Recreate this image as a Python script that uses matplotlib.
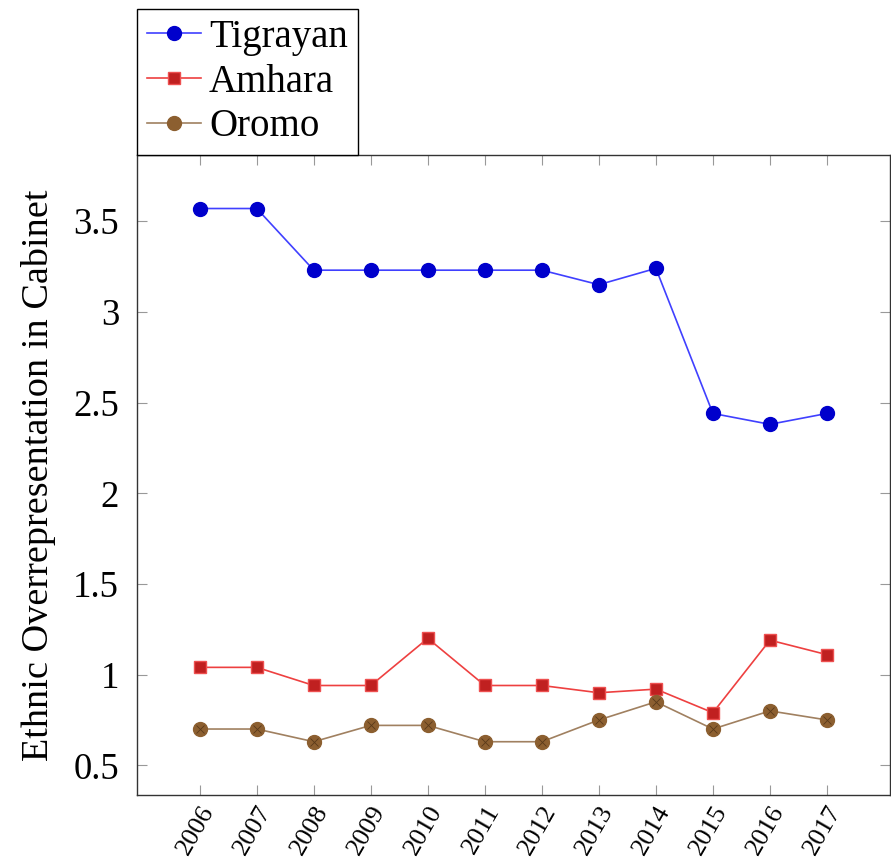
import matplotlib.pyplot as plt

years = [2006, 2007, 2008, 2009, 2010, 2011, 2012, 2013, 2014, 2015, 2016, 2017]
tigrayan = [3.57, 3.57, 3.23, 3.23, 3.23, 3.23, 3.23, 3.15, 3.24, 2.44, 2.38, 2.44]
amhara = [1.04, 1.04, 0.94, 0.94, 1.20, 0.94, 0.94, 0.90, 0.92, 0.79, 1.19, 1.11]
oromo = [0.70, 0.70, 0.63, 0.72, 0.72, 0.63, 0.63, 0.75, 0.85, 0.70, 0.80, 0.75]
yticks = [0.5, 1, 1.5, 2, 2.5, 3, 3.5]

plt.rcParams["font.family"] = ["Liberation Serif", "DejaVu Serif"]

fig = plt.figure(figsize=(8.91, 8.67), dpi=100)
ax = fig.add_axes([0.1538, 0.083, 0.8447, 0.738])

ax.plot(years, tigrayan, color="#4040ff", lw=1.2, marker="o", ms=10,
        mfc="#0000cc", mec="#0000cc", label="Tigrayan")
ax.plot(years, amhara, color="#ee4040", lw=1.2, marker="s", ms=9,
        mfc="#c02020", mec="#ee5050", label="Amhara")
ax.plot(years, oromo, color="#a08060", lw=1.2, marker="o", ms=10,
        mfc="#8c5f30", mec="#8c5f30", label="Oromo")
# cross hatch inside the Oromo markers
ax.plot(years, oromo, ls="none", marker="x", ms=6, mew=0.6, color="#5a3a1a")

ax.set_xlim(2004.9, 2018.1)
ax.set_ylim(0.336, 3.864)
ax.set_xticks(years)
ax.set_xticklabels([str(y) for y in years], rotation=60, ha="right",
                   rotation_mode="anchor", fontsize=19)
ax.set_yticks(yticks)
ax.set_yticklabels([f"{t:g}" for t in yticks], fontsize=26.5)
ax.tick_params(direction="in", length=7, color="#999999", top=True, right=True)
ax.tick_params(axis="y", pad=13)
ax.tick_params(axis="x", pad=5)
ax.set_ylabel("Ethnic Overrepresentation in Cabinet", fontsize=27.5, labelpad=12)

for s in ax.spines.values():
    s.set_color("#333333")
    s.set_linewidth(1.0)

leg = ax.legend(loc="lower left", bbox_to_anchor=(0, 1), borderaxespad=0,
                fancybox=False, edgecolor="black", framealpha=1, fontsize=28,
                handlelength=1.4, handletextpad=0.2, labelspacing=0.2,
                borderpad=0.25)
leg.get_frame().set_linewidth(1.0)

fig.savefig("out.png", dpi=100)
